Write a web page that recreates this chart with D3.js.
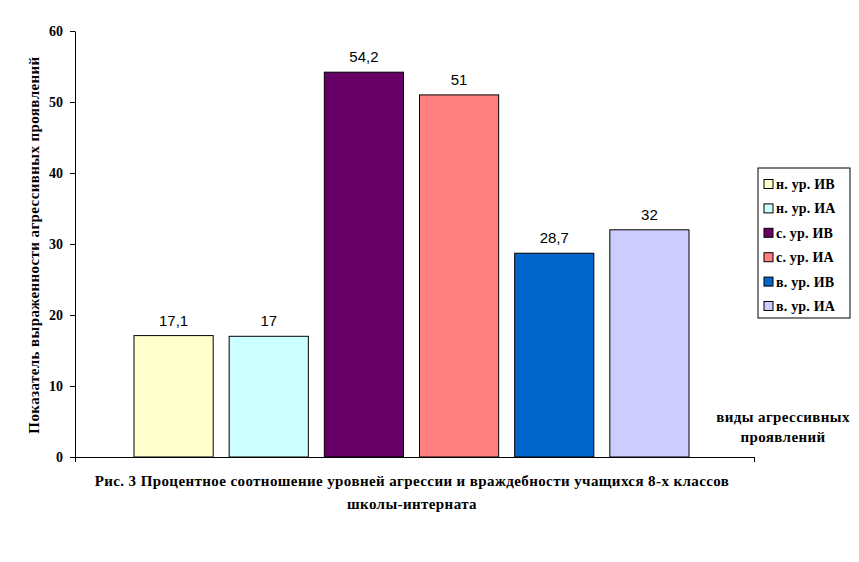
<!DOCTYPE html>
<html>
<head>
<meta charset="utf-8">
<script src="https://cdn.jsdelivr.net/npm/d3@7"></script>
<style>
  body { margin: 0; background: #fff; }
</style>
</head>
<body>
<svg width="859" height="562"></svg>
<script>
// data
const series = ["н. ур. ИВ", "н. ур. ИА", "с. ур. ИВ", "с. ур. ИА", "в. ур. ИВ", "в. ур. ИА"];
const values = [17.1, 17, 54.2, 51, 28.7, 32];
const valueLabels = ["17,1", "17", "54,2", "51", "28,7", "32"];
const colors = ["#ffffcc", "#ccffff", "#660066", "#ff8080", "#0066cc", "#ccccff"];
const yTicks = [0, 10, 20, 30, 40, 50, 60];

const serif = "'Liberation Serif', 'Times New Roman', serif";
const svg = d3.select("svg");

// plot area
const plot = { left: 75, right: 754, top: 31, bottom: 457 };

const y = d3.scaleLinear().domain([0, 60]).range([plot.bottom, plot.top]);
const x = d3.scaleBand()
  .domain(series)
  .range([126, 697])
  .paddingInner(0.168)
  .paddingOuter(0.084);

function serifText(sel, size) {
  return sel.style("font-family", serif)
    .style("font-weight", "bold")
    .style("font-size", size)
    .style("letter-spacing", "0.4px");
}

// bars
svg.append("g")
  .selectAll("rect")
  .data(series)
  .join("rect")
  .attr("x", d => x(d))
  .attr("y", (d, i) => y(values[i]))
  .attr("width", x.bandwidth())
  .attr("height", (d, i) => plot.bottom - y(values[i]))
  .attr("fill", (d, i) => colors[i])
  .attr("stroke", "#000")
  .attr("stroke-width", 1);

// value labels
svg.append("g")
  .selectAll("text")
  .data(series)
  .join("text")
  .attr("x", d => x(d) + x.bandwidth() / 2)
  .attr("y", (d, i) => y(values[i]) - 10)
  .attr("text-anchor", "middle")
  .style("font-family", "'Liberation Sans', Arial, sans-serif")
  .style("font-size", "15px")
  .text((d, i) => valueLabels[i]);

// left axis
const leftAxis = d3.axisLeft(y).tickValues(yTicks).tickSize(5).tickSizeOuter(0).tickPadding(7);
const gy = svg.append("g")
  .attr("class", "left axis")
  .attr("transform", `translate(${plot.left},0)`)
  .call(leftAxis);
serifText(gy.selectAll("text"), "14px")
  .style("letter-spacing", "0px")
  .attr("fill", "#000");
gy.selectAll("line, path").attr("stroke", "#000");

// bottom axis: single category, ticks at ends
const xCat = d3.scaleLinear().domain([0, 1]).range([plot.left, plot.right]);
const gx = svg.append("g")
  .attr("class", "bottom axis")
  .attr("transform", `translate(0,${plot.bottom})`)
  .call(d3.axisBottom(xCat).tickValues([0, 1]).tickSize(5).tickSizeOuter(0).tickFormat(""));
gx.selectAll("line, path").attr("stroke", "#000");

// y axis-label
serifText(svg.append("text"), "15px")
  .attr("transform", "translate(39,245) rotate(-90)")
  .attr("text-anchor", "middle")
  .text("Показатель выраженности агрессивных проявлений");

// x axis-label
const xLab = serifText(svg.append("text"), "15px")
  .attr("text-anchor", "middle");
xLab.append("tspan").attr("x", 783).attr("y", 422).text("виды агрессивных");
xLab.append("tspan").attr("x", 783).attr("y", 442).text("проявлений");

// caption
const cap = serifText(svg.append("text"), "15px")
  .attr("text-anchor", "middle");
cap.append("tspan").attr("x", 412).attr("y", 486).text("Рис. 3 Процентное соотношение уровней агрессии и враждебности учащихся 8-х классов");
cap.append("tspan").attr("x", 412).attr("y", 509).text("школы-интерната");

// legend
const legend = svg.append("g").attr("transform", "translate(758,168)");
legend.append("rect")
  .attr("width", 92).attr("height", 150)
  .attr("fill", "#fff").attr("stroke", "#000");
const item = legend.selectAll("g.item")
  .data(series)
  .join("g")
  .attr("class", "item")
  .attr("transform", (d, i) => `translate(6,${16 + i * 24.4})`);
item.append("rect")
  .attr("x", 0).attr("y", -4.5)
  .attr("width", 9).attr("height", 9)
  .attr("fill", (d, i) => colors[i])
  .attr("stroke", "#000");
serifText(item.append("text"), "14px")
  .style("letter-spacing", "0.2px")
  .attr("x", 12).attr("y", 5)
  .text(d => d);
</script>
</body>
</html>
